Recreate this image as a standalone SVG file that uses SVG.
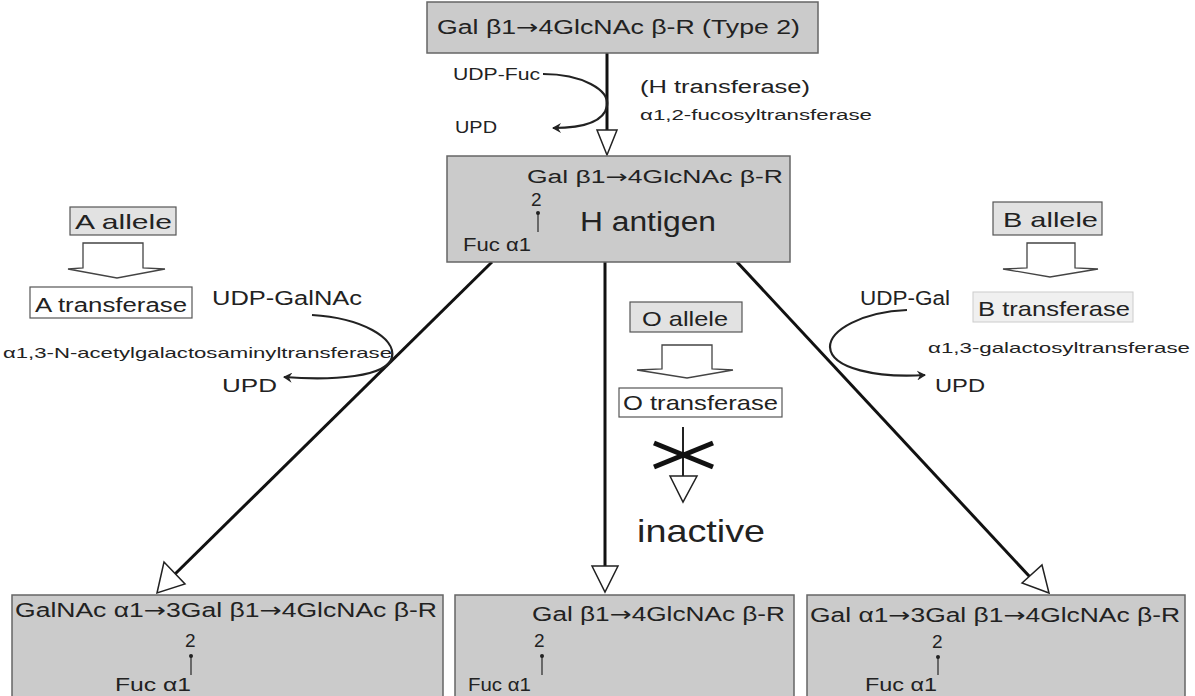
<svg xmlns="http://www.w3.org/2000/svg" width="1195" height="696" viewBox="0 0 1195 696">
<style>
text{font-family:"Liberation Sans",Arial,sans-serif;fill:#222;}
.ar{font-family:"DejaVu Sans",sans-serif;}
.box{fill:#cbcbcb;stroke:#666;stroke-width:1.5;}
.lbl{fill:#e2e2e2;stroke:#555;stroke-width:1.2;}
.wlbl{fill:#fff;stroke:#555;stroke-width:1.2;}
.line{stroke:#111;stroke-width:3;fill:none;}
.curve{stroke:#222;stroke-width:2.2;fill:none;}
.hollow{fill:#fff;stroke:#444;stroke-width:1.3;}
.tri{fill:#fff;stroke:#222;stroke-width:1.5;}
.link{stroke:#333;stroke-width:1.3;}
</style>
<defs>
<marker id="ah" markerWidth="10" markerHeight="10" refX="8" refY="5" orient="auto" markerUnits="userSpaceOnUse">
<path d="M0,0 L9,5 L0,10 L3,5 Z" fill="#222"/>
</marker>
</defs>
<rect width="1195" height="696" fill="#fff"/>

<g id="connectors">
<line class="line" x1="607" y1="53" x2="607" y2="130"/>
<polygon class="tri" points="597,130 617,130 607,155"/>
<line class="line" x1="492" y1="262" x2="172" y2="577"/>
<polygon class="tri" points="164,562 185,584 157,593"/>
<line class="line" x1="605" y1="262" x2="605" y2="566"/>
<polygon class="tri" points="592,566 618,566 605,592"/>
<line class="line" x1="737" y1="262" x2="1030" y2="577"/>
<polygon class="tri" points="1022,583 1042,565 1049,593"/>
<path class="curve" d="M543,74 C582,74 610,90 607,106 C604,122 582,128 553,128" marker-end="url(#ah)"/>
<path class="curve" d="M312,315 C362,318 396,338 392,357 C388,377 332,381 284,377" marker-end="url(#ah)"/>
<path class="curve" d="M907,310 C862,312 830,330 830,347 C831,369 878,378 925,375" marker-end="url(#ah)"/>
</g>

<g id="type2">
<rect class="box" x="427" y="2" width="391" height="51"/>
<text x="437" y="34" font-size="20" textLength="363" lengthAdjust="spacingAndGlyphs">Gal β1<tspan class="ar">→</tspan>4GlcNAc β-R  (Type 2)</text>
</g>

<g id="h-transferase">
<text x="453" y="80" font-size="16" textLength="87" lengthAdjust="spacingAndGlyphs">UDP-Fuc</text>
<text x="455" y="133" font-size="16" textLength="42" lengthAdjust="spacingAndGlyphs">UPD</text>
<text x="640" y="93" font-size="18" textLength="170" lengthAdjust="spacingAndGlyphs">(H transferase)</text>
<text x="640" y="120" font-size="14" textLength="232" lengthAdjust="spacingAndGlyphs">α1,2-fucosyltransferase</text>
</g>

<g id="h-antigen">
<rect class="box" x="447" y="156" width="343" height="106"/>
<text x="527" y="183" font-size="18" textLength="256" lengthAdjust="spacingAndGlyphs">Gal β1<tspan class="ar">→</tspan>4GlcNAc β-R</text>
<text x="531" y="206" font-size="19">2</text>
<line class="link" x1="538" y1="212" x2="538" y2="232"/>
<circle cx="538" cy="213" r="2" fill="#222"/>
<text x="463" y="251" font-size="18" textLength="68" lengthAdjust="spacingAndGlyphs">Fuc α1</text>
<text x="580" y="231" font-size="27" textLength="136" lengthAdjust="spacingAndGlyphs">H antigen</text>
</g>

<g id="a-allele">
<rect class="lbl" x="70" y="207" width="106" height="28"/>
<text x="75" y="229" font-size="21" textLength="97" lengthAdjust="spacingAndGlyphs">A allele</text>
<polygon class="hollow" points="83,243 143,243 143,268 165,269 117,278 68,269 83,268"/>
</g>

<g id="a-transferase">
<rect class="wlbl" x="30" y="287" width="162" height="31"/>
<text x="35" y="312" font-size="20" textLength="152" lengthAdjust="spacingAndGlyphs">A transferase</text>
<text x="3" y="358" font-size="15" textLength="389" lengthAdjust="spacingAndGlyphs">α1,3-N-acetylgalactosaminyltransferase</text>
<text x="212" y="305" font-size="20" textLength="150" lengthAdjust="spacingAndGlyphs">UDP-GalNAc</text>
<text x="222" y="392" font-size="19" textLength="55" lengthAdjust="spacingAndGlyphs">UPD</text>
</g>

<g id="o-allele">
<rect class="lbl" x="630" y="302" width="112" height="30"/>
<text x="642" y="326" font-size="21" textLength="86" lengthAdjust="spacingAndGlyphs">O allele</text>
<polygon class="hollow" points="662,345 712,345 712,369 733,370 687,378 637,370 662,369"/>
</g>

<g id="o-transferase">
<rect class="wlbl" x="619" y="388" width="163" height="29"/>
<text x="623" y="410" font-size="21" textLength="155" lengthAdjust="spacingAndGlyphs">O transferase</text>
<line x1="683" y1="427" x2="683" y2="476" stroke="#222" stroke-width="2"/>
<line x1="654" y1="443" x2="713" y2="467" stroke="#111" stroke-width="5"/>
<line x1="654" y1="467" x2="713" y2="443" stroke="#111" stroke-width="5"/>
<polygon class="tri" points="670,476 697,476 683,502"/>
<text x="637" y="542" font-size="32" textLength="128" lengthAdjust="spacingAndGlyphs">inactive</text>
</g>

<g id="b-allele">
<rect class="lbl" x="993" y="202" width="109" height="33"/>
<text x="1003" y="227" font-size="21" textLength="95" lengthAdjust="spacingAndGlyphs">B allele</text>
<polygon class="hollow" points="1027,243 1075,243 1075,268 1098,269 1050,277 1003,269 1027,268"/>
</g>

<g id="b-transferase">
<rect x="973" y="292" width="160" height="30" fill="#f0f0f0" stroke="#ccc" stroke-width="1"/>
<text x="978" y="316" font-size="21" textLength="152" lengthAdjust="spacingAndGlyphs">B transferase</text>
<text x="860" y="305" font-size="20" textLength="90" lengthAdjust="spacingAndGlyphs">UDP-Gal</text>
<text x="928" y="353" font-size="15" textLength="262" lengthAdjust="spacingAndGlyphs">α1,3-galactosyltransferase</text>
<text x="935" y="392" font-size="18" textLength="50" lengthAdjust="spacingAndGlyphs">UPD</text>
</g>

<g id="a-antigen">
<rect class="box" x="12" y="595" width="431" height="106"/>
<text x="15" y="617" font-size="20" textLength="422" lengthAdjust="spacingAndGlyphs">GalNAc α1<tspan class="ar">→</tspan>3Gal β1<tspan class="ar">→</tspan>4GlcNAc β-R</text>
<text x="185" y="647" font-size="19">2</text>
<line class="link" x1="191" y1="656" x2="191" y2="675"/>
<circle cx="191" cy="656" r="2" fill="#222"/>
<text x="115" y="691" font-size="19" textLength="76" lengthAdjust="spacingAndGlyphs">Fuc α1</text>
</g>

<g id="o-antigen">
<rect class="box" x="455" y="595" width="339" height="106"/>
<text x="532" y="621" font-size="20" textLength="253" lengthAdjust="spacingAndGlyphs">Gal β1<tspan class="ar">→</tspan>4GlcNAc β-R</text>
<text x="534" y="647" font-size="19">2</text>
<line class="link" x1="542" y1="656" x2="542" y2="675"/>
<circle cx="542" cy="656" r="2" fill="#222"/>
<text x="468" y="691" font-size="19" textLength="63" lengthAdjust="spacingAndGlyphs">Fuc α1</text>
</g>

<g id="b-antigen">
<rect class="box" x="807" y="595" width="378" height="106"/>
<text x="810" y="622" font-size="20" textLength="370" lengthAdjust="spacingAndGlyphs">Gal α1<tspan class="ar">→</tspan>3Gal β1<tspan class="ar">→</tspan>4GlcNAc β-R</text>
<text x="932" y="648" font-size="19">2</text>
<line class="link" x1="938" y1="657" x2="938" y2="675"/>
<circle cx="938" cy="657" r="2" fill="#222"/>
<text x="865" y="691" font-size="19" textLength="72" lengthAdjust="spacingAndGlyphs">Fuc α1</text>
</g>
</svg>
